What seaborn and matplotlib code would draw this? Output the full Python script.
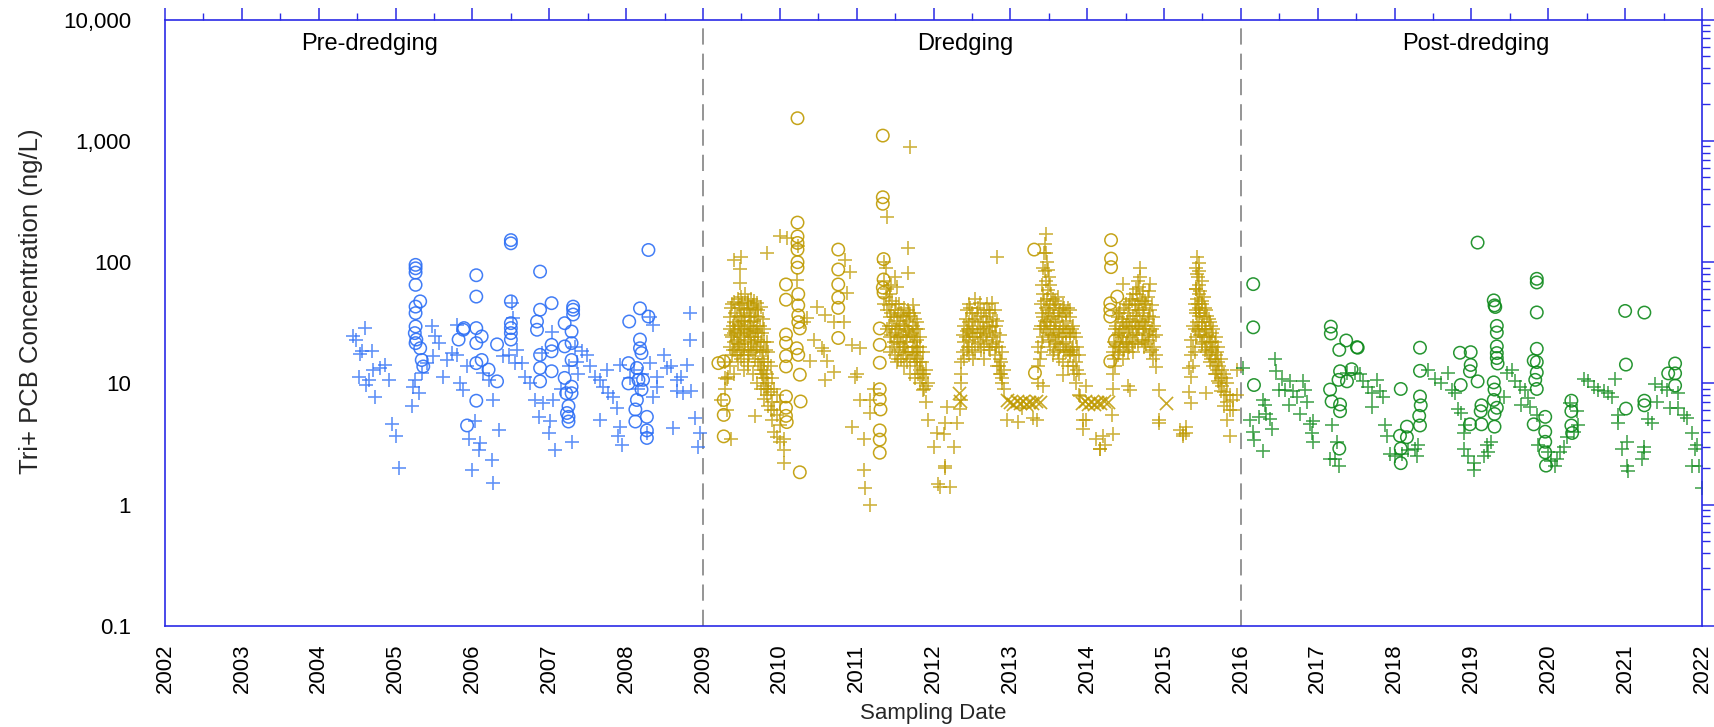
import numpy as np
import pandas as pd
import matplotlib
matplotlib.use("Agg")
import matplotlib.pyplot as plt
import matplotlib.ticker as mticker
import seaborn as sns

# ---------------- data (decimal year, Tri+ PCB ng/L) ----------------
pre_plus = [
    (2004.45, 24.4), (2004.60, 28.9), (2004.49, 22.9), (2004.56, 18.4), (2004.69, 18.4),
    (2004.54, 17.6), (2004.52, 11.4), (2004.62, 9.7), (2004.73, 7.8), (2004.65, 10.7),
    (2004.71, 12.9), (2004.80, 13.4), (2004.86, 14.2), (2004.91, 10.7), (2004.95, 4.6),
    (2005.01, 3.66), (2005.04, 2.0), (2005.21, 6.5), (2005.25, 10.7), (2005.23, 9.4),
    (2005.30, 8.3), (2005.34, 12.2), (2005.41, 14.7), (2005.47, 29.5), (2005.51, 24.4),
    (2005.56, 21.5), (2005.49, 16.7), (2005.62, 11.4), (2005.67, 15.6), (2005.73, 17.8),
    (2005.80, 17.2), (2005.84, 10.0), (2005.88, 8.9), (2005.93, 13.8), (2005.80, 30.4),
    (2005.95, 3.5), (2006.03, 4.9), (2006.10, 3.2), (2006.08, 2.8), (2006.00, 1.95),
    (2006.25, 2.35), (2006.27, 1.5), (2006.34, 4.15), (2006.14, 12.2), (2006.21, 10.7),
    (2006.27, 7.3), (2006.40, 16.7), (2006.47, 17.2), (2006.51, 46.0), (2006.55, 14.7),
    (2006.53, 34.5), (2006.58, 18.9), (2006.64, 14.7), (2006.68, 11.4), (2006.75, 10.0),
    (2006.81, 7.3), (2006.86, 5.3), (2006.92, 6.9), (2007.01, 4.9), (2006.99, 3.9),
    (2007.07, 2.85), (2007.29, 3.3), (2007.03, 26.8), (2006.90, 17.8), (2007.05, 7.3),
    (2007.15, 9.0), (2007.25, 14.0), (2007.33, 20.0), (2007.36, 15.0), (2007.38, 12.0),
    (2007.42, 18.4), (2007.49, 17.2), (2007.53, 13.8), (2007.60, 11.4), (2007.66, 10.7),
    (2007.75, 12.9), (2007.70, 9.4), (2007.77, 8.3), (2007.83, 7.8), (2007.88, 6.3),
    (2007.66, 5.0), (2007.92, 4.4), (2007.94, 3.1), (2007.90, 3.65), (2007.92, 14.2),
    (2008.05, 11.0), (2008.10, 13.0), (2008.15, 9.0), (2008.20, 12.0),
    (2008.31, 35.6), (2008.35, 30.4), (2008.31, 14.7), (2008.40, 11.4), (2008.49, 17.2),
    (2008.53, 13.4), (2008.59, 13.8), (2008.66, 10.7), (2008.72, 11.4), (2008.79, 14.2),
    (2008.66, 8.6), (2008.74, 8.3), (2008.85, 8.6), (2008.83, 37.9), (2008.83, 22.9),
    (2008.61, 4.3), (2008.27, 3.9), (2008.90, 5.2), (2008.96, 3.9), (2008.94, 3.0),
    (2008.35, 7.8), (2008.40, 9.4),
]
pre_circle = [
    (2005.26, 95), (2005.26, 89), (2005.26, 82), (2005.26, 65), (2005.32, 47.5),
    (2005.26, 43), (2005.26, 38), (2005.26, 29.5), (2005.25, 26), (2005.26, 21.5),
    (2005.27, 23), (2005.32, 19.5), (2005.34, 15.6), (2005.36, 13.8),
    (2005.82, 23), (2005.88, 27.7), (2005.89, 28.6), (2006.05, 78), (2006.05, 52),
    (2006.05, 28.6), (2006.12, 24.4), (2006.05, 21.5), (2006.05, 14.7), (2006.12, 15.6),
    (2006.21, 13.0), (2006.32, 10.4), (2006.32, 21.0), (2006.05, 7.2), (2005.93, 4.5),
    (2006.50, 143), (2006.50, 152), (2006.50, 47.5), (2006.50, 31.4), (2006.50, 28.6),
    (2006.50, 26), (2006.50, 23),
    (2006.88, 83.6), (2006.88, 40.5), (2007.03, 45.9), (2006.84, 32.4), (2006.84, 27.7),
    (2006.88, 17.2), (2006.88, 13.4), (2006.88, 10.4), (2007.03, 20.8), (2007.03, 18.4),
    (2007.03, 12.6), (2007.20, 31.4), (2007.20, 20.2), (2007.20, 11.1), (2007.22, 8.3),
    (2007.25, 6.5), (2007.25, 5.3), (2007.31, 43), (2007.31, 40.5), (2007.31, 37),
    (2007.29, 26.8), (2007.29, 21.5), (2007.29, 15.6), (2007.29, 9.4), (2007.29, 8.3),
    (2007.23, 5.7), (2007.25, 4.85),
    (2008.04, 32.4), (2008.03, 14.7), (2008.03, 10.0), (2008.18, 41.6), (2008.29, 35.6),
    (2008.18, 23), (2008.18, 19.5), (2008.20, 17.8), (2008.14, 13.4), (2008.16, 10.7),
    (2008.22, 10.7), (2008.20, 8.9), (2008.14, 7.3), (2008.12, 6.1), (2008.12, 4.85),
    (2008.27, 5.3), (2008.27, 4.1), (2008.27, 3.55), (2008.29, 126),
]

# dredging '+' samples: rows of (year, value, value, ...)
dr_plus_rows = [
    (2009.24, 7.3), (2009.28, 15, 11, 9), (2009.31, 6.0, 10.9), (2009.33, 11.4),
    (2009.35, 28, 20, 14, 35), (2009.37, 3.5), (2009.38, 45, 24, 17), (2009.40, 32, 22, 12, 104),
    (2009.42, 38, 27, 19), (2009.45, 50, 30, 21, 15), (2009.48, 87, 67, 42, 26, 18),
    (2009.50, 111, 35, 24, 16), (2009.53, 40, 28, 20, 13), (2009.55, 55, 33, 22),
    (2009.58, 46, 30, 19, 14), (2009.60, 38, 26, 17), (2009.62, 50, 32, 21),
    (2009.65, 44, 28, 18, 12), (2009.68, 36, 24, 16, 5.4), (2009.70, 46, 30, 20, 10),
    (2009.72, 40, 26, 15), (2009.75, 43, 22, 13, 9), (2009.78, 34, 18, 11),
    (2009.80, 28, 15, 9.5, 7.5), (2009.83, 120, 22, 12, 8), (2009.85, 18, 10, 6.5),
    (2009.88, 14, 8.5, 6), (2009.90, 11, 7, 5), (2009.93, 9, 6, 4), (2009.96, 8, 5.5, 3.6),
    (2010.00, 163, 7, 4.5, 3.3), (2010.05, 2.2, 2.8, 3.5), (2010.09, 157),
    (2010.22, 71), (2010.24, 135), (2010.31, 32), (2010.35, 34.5), (2010.39, 15.2),
    (2010.44, 23), (2010.48, 43), (2010.55, 19.5), (2010.57, 18.6), (2010.59, 36.4, 10.7),
    (2010.62, 15.2), (2010.70, 12.4, 32), (2010.83, 32), (2010.85, 104), (2010.87, 56),
    (2010.91, 83), (2010.94, 20.8, 4.4), (2010.98, 11.4), (2011.00, 12.0), (2011.04, 19.5, 7.3),
    (2011.09, 3.5, 1.95), (2011.11, 1.37), (2011.17, 5.7, 7.3, 1.0), (2011.22, 9.0),
    (2011.36, 100, 70, 45), (2011.40, 237, 60, 40, 28), (2011.43, 55, 35, 24, 18),
    (2011.46, 48, 30, 20), (2011.50, 76, 40, 26, 17), (2011.52, 62, 33, 22, 15),
    (2011.55, 45, 28, 19), (2011.58, 38, 25, 16), (2011.61, 42, 30, 20, 14),
    (2011.64, 35, 24, 17), (2011.67, 131, 82, 40, 27, 18), (2011.69, 898),
    (2011.70, 36, 25, 16, 12), (2011.73, 44, 30, 20), (2011.76, 34, 22, 15, 11),
    (2011.78, 32, 20, 14), (2011.80, 28, 18, 12), (2011.83, 24, 15, 10),
    (2011.86, 18, 12, 8.9), (2011.90, 13, 9.5, 7), (2011.93, 10, 5.0),
    (2012.00, 3.0), (2012.04, 3.9), (2012.06, 1.47), (2012.085, 1.4), (2012.13, 3.8),
    (2012.15, 2.1, 2.0, 4.7), (2012.17, 6.4), (2012.22, 1.4), (2012.26, 3.0),
    (2012.30, 4.7), (2012.34, 6.1), (2012.36, 15, 10, 12, 7.3),
    (2012.40, 30, 22, 16), (2012.43, 40, 27, 19), (2012.46, 45, 32, 23, 17),
    (2012.50, 38, 28, 20), (2012.54, 50, 34, 24, 18), (2012.58, 42, 30, 21),
    (2012.62, 36, 26, 19), (2012.66, 40, 28, 20, 16), (2012.70, 45, 32, 23),
    (2012.74, 38, 27, 19), (2012.76, 46, 30, 21), (2012.80, 40, 26, 17),
    (2012.82, 110), (2012.83, 33, 22, 14), (2012.86, 25, 16, 12), (2012.89, 18, 11, 10),
    (2012.92, 13, 9), (2012.95, 5.0), (2013.10, 4.8), (2013.15, 6.3), (2013.30, 5.2),
    (2013.34, 5.0), (2013.36, 20, 14, 10), (2013.40, 45, 30, 18), (2013.43, 90, 55, 35, 24, 9.5),
    (2013.46, 172, 118, 70, 42, 28), (2013.49, 86, 59, 38, 26), (2013.52, 65, 44, 30, 20),
    (2013.55, 50, 36, 25, 17), (2013.58, 48, 32, 22), (2013.62, 52, 35, 24, 18),
    (2013.65, 40, 28, 20), (2013.68, 44, 30, 21, 15), (2013.69, 11.7), (2013.72, 38, 26, 18),
    (2013.75, 42, 28, 19, 14), (2013.78, 35, 24, 17), (2013.82, 30, 20, 14),
    (2013.85, 24, 15, 10), (2013.89, 17, 12, 8), (2013.91, 7.9), (2013.95, 5.0, 4.2),
    (2013.99, 9.6, 5.0), (2014.12, 3.5), (2014.17, 2.9, 2.9), (2014.21, 3.7), (2014.23, 3.1),
    (2014.32, 5.5), (2014.34, 3.8),
    (2014.33, 18, 12, 9), (2014.36, 28, 20, 14), (2014.40, 35, 25, 17), (2014.43, 40, 28, 20),
    (2014.46, 66, 32, 22, 16), (2014.50, 45, 30, 21), (2014.53, 38, 26, 18, 9.6),
    (2014.56, 50, 34, 24, 8.8), (2014.60, 55, 36, 25, 18), (2014.63, 60, 40, 28),
    (2014.66, 70, 45, 30, 21), (2014.69, 89, 76, 50, 33), (2014.72, 58, 38, 26),
    (2014.75, 48, 32, 22), (2014.79, 52, 34, 23), (2014.82, 66, 40, 27, 18),
    (2014.85, 35, 24, 16), (2014.89, 25, 17, 13.7), (2014.93, 8.8, 5.0, 4.7),
    (2015.21, 4.1), (2015.25, 3.8, 3.7), (2015.28, 3.9, 4.4),
    (2015.32, 13.5, 8.5), (2015.35, 23, 17, 11.3, 6.9), (2015.38, 30, 20, 14),
    (2015.41, 60, 38, 24), (2015.43, 111, 80, 50, 32), (2015.46, 98, 65, 42, 28),
    (2015.49, 70, 45, 30, 21), (2015.52, 52, 35, 24), (2015.55, 40, 28, 20, 8.3),
    (2015.58, 34, 24, 17), (2015.61, 30, 22, 16), (2015.64, 28, 20, 14),
    (2015.67, 24, 17, 12), (2015.70, 20, 15, 10.5), (2015.74, 16, 11, 8.6),
    (2015.78, 12, 8.5, 6.5), (2015.82, 10, 7, 5.0), (2015.86, 8, 6, 3.7),
    (2015.90, 7.3, 6), (2015.95, 13, 8),
]
# further '+' samples inside the dense seasonal clusters
dr_plus_rows_dense = [
    (2009.36, 42, 25), (2009.39, 30, 19), (2009.41, 47, 26), (2009.44, 36, 23, 17),
    (2009.47, 44, 31, 21), (2009.49, 52, 28), (2009.51, 46, 33, 19), (2009.54, 36, 25, 17),
    (2009.57, 41, 27), (2009.59, 48, 23, 15), (2009.61, 35, 28), (2009.63, 42, 24, 19),
    (2009.66, 48, 33, 22), (2009.69, 41, 27, 19), (2009.71, 35, 23), (2009.74, 30, 19, 14),
    (2009.77, 26, 16, 12), (2009.79, 22, 13), (2009.82, 19, 11, 9), (2009.84, 15, 9),
    (2011.38, 90, 52), (2011.42, 44, 30), (2011.45, 65, 38, 25), (2011.48, 35, 22),
    (2011.51, 45, 28), (2011.54, 37, 24, 16), (2011.57, 31, 21), (2011.60, 36, 24, 18),
    (2011.63, 30, 20), (2011.66, 33, 22, 15), (2011.68, 38, 28), (2011.72, 26, 18),
    (2011.74, 38, 24, 17), (2011.77, 28, 18), (2011.79, 23, 16), (2011.82, 20, 13),
    (2011.85, 15, 11), (2011.88, 12, 9),
    (2012.38, 25, 18), (2012.42, 34, 24), (2012.45, 28, 20), (2012.48, 42, 26),
    (2012.52, 33, 24, 16), (2012.56, 38, 26), (2012.60, 46, 28, 22), (2012.64, 32, 24),
    (2012.68, 35, 25), (2012.72, 40, 29, 20), (2012.78, 34, 24), (2012.81, 30, 20),
    (2012.85, 20, 14), (2012.88, 15, 12),
    (2013.38, 28, 16), (2013.41, 65, 38, 22), (2013.44, 120, 48, 30), (2013.45, 140, 85, 33),
    (2013.48, 100, 50, 32), (2013.50, 75, 40, 23), (2013.53, 55, 34, 25), (2013.57, 42, 28, 19),
    (2013.60, 45, 30, 21), (2013.63, 38, 26, 16), (2013.67, 36, 24), (2013.70, 42, 28, 19),
    (2013.73, 33, 22), (2013.77, 40, 26, 18), (2013.80, 28, 19), (2013.83, 26, 17, 12),
    (2013.87, 20, 13),
    (2014.35, 22, 16), (2014.38, 30, 21), (2014.41, 38, 26, 18), (2014.45, 34, 24),
    (2014.48, 42, 28, 19), (2014.52, 32, 22), (2014.55, 44, 29, 20), (2014.58, 48, 30, 21),
    (2014.62, 44, 32, 22), (2014.65, 55, 36, 25), (2014.68, 62, 40, 28), (2014.71, 48, 32, 23),
    (2014.74, 42, 28, 20), (2014.77, 45, 30, 21), (2014.80, 58, 36, 25), (2014.84, 44, 28, 19),
    (2014.87, 30, 20),
    (2015.40, 45, 28, 18), (2015.42, 90, 60, 40), (2015.44, 75, 45, 27), (2015.45, 85, 55, 36),
    (2015.47, 58, 38, 25), (2015.50, 48, 32, 22), (2015.53, 42, 28, 19), (2015.56, 36, 25, 18),
    (2015.60, 32, 22, 15), (2015.63, 26, 19), (2015.66, 22, 16, 12), (2015.69, 18, 13),
    (2015.72, 14, 10), (2015.76, 13, 9.5), (2015.80, 11, 8),
]
dr_circle = [
    (2009.20, 14.7), (2009.27, 15.2), (2009.27, 7.3), (2009.27, 5.5), (2009.27, 3.66),
    (2010.08, 65.5), (2010.08, 49), (2010.08, 25.3), (2010.08, 21.6), (2010.08, 16.8),
    (2010.08, 13.8), (2010.08, 7.8), (2010.08, 6.3), (2010.08, 5.4), (2010.09, 4.8),
    (2010.23, 1538), (2010.23, 212), (2010.23, 163), (2010.23, 144), (2010.23, 127),
    (2010.23, 100), (2010.23, 90), (2010.24, 54.5), (2010.24, 44), (2010.24, 36.4),
    (2010.24, 32), (2010.26, 28.4), (2010.22, 19.5), (2010.24, 17.2), (2010.26, 11.8),
    (2010.27, 7.1), (2010.26, 1.85),
    (2010.76, 127), (2010.76, 87), (2010.76, 65.5), (2010.76, 51), (2010.76, 42), (2010.76, 23.7),
    (2011.34, 1106), (2011.34, 343), (2011.34, 303), (2011.35, 106), (2011.35, 72),
    (2011.34, 61.6), (2011.35, 56), (2011.30, 28.4), (2011.30, 20.8), (2011.30, 14.8),
    (2011.30, 8.95), (2011.30, 7.4), (2011.31, 6.1), (2011.30, 4.1), (2011.30, 3.44),
    (2011.30, 2.68),
    (2013.31, 127), (2013.32, 12.2),
    (2014.31, 152), (2014.31, 107), (2014.31, 91), (2014.39, 52), (2014.30, 45.8),
    (2014.30, 40.5), (2014.30, 35.6), (2014.36, 22.5), (2014.30, 15.2),
]
dr_cross = [
    (2012.33, 8.3), (2012.35, 7.1),
    (2012.95, 7.3), (2013.00, 7.0), (2013.04, 6.8), (2013.08, 7.2), (2013.12, 6.9),
    (2013.16, 7.1), (2013.20, 6.8), (2013.24, 7.0), (2013.28, 6.9), (2013.33, 7.1), (2013.38, 7.0),
    (2013.93, 6.9), (2013.97, 7.1), (2014.01, 6.8), (2014.05, 7.0), (2014.09, 6.8),
    (2014.13, 7.0), (2014.17, 6.9), (2014.22, 7.2), (2014.27, 7.0),
    (2015.03, 6.9),
]

post_plus = [
    (2016.03, 13.5), (2016.12, 4.97), (2016.16, 4.0), (2016.17, 3.4), (2016.29, 2.77),
    (2016.23, 5.3), (2016.31, 6.6), (2016.29, 7.3), (2016.33, 5.6), (2016.38, 5.1),
    (2016.40, 4.2), (2016.44, 15.8), (2016.46, 12.7), (2016.53, 10.9), (2016.49, 8.9),
    (2016.57, 8.9), (2016.64, 10.4), (2016.68, 8.7), (2016.73, 7.8), (2016.81, 10.4),
    (2016.83, 8.9), (2016.86, 7.0), (2016.62, 6.6), (2016.77, 5.6), (2016.90, 4.6),
    (2016.94, 4.9), (2016.92, 3.9), (2016.94, 3.3), (2017.18, 4.5), (2017.16, 2.4),
    (2017.22, 2.4), (2017.27, 2.1), (2017.25, 3.3), (2017.38, 12.3), (2017.49, 12.3),
    (2017.55, 11.9), (2017.59, 10.4), (2017.66, 9.4), (2017.70, 8.4), (2017.77, 10.7),
    (2017.81, 8.7), (2017.85, 7.8), (2017.70, 6.4), (2017.88, 4.5), (2017.90, 3.7),
    (2017.94, 2.6), (2018.01, 2.5), (2018.09, 2.6), (2018.18, 2.8), (2018.27, 2.9),
    (2018.29, 2.5), (2018.31, 3.1), (2018.44, 12.8), (2018.53, 10.9), (2018.61, 10.0),
    (2018.70, 12.3), (2018.79, 8.4), (2018.75, 8.9), (2018.83, 6.1), (2018.87, 5.7),
    (2018.92, 4.5), (2018.90, 3.9), (2018.90, 2.9), (2018.96, 2.5), (2019.03, 2.2),
    (2019.03, 1.95), (2019.16, 2.5), (2019.22, 2.7), (2019.20, 3.1), (2019.26, 3.3),
    (2019.42, 7.8), (2019.46, 12.3), (2019.53, 12.8), (2019.57, 10.4), (2019.63, 9.4),
    (2019.70, 8.9), (2019.74, 7.6), (2019.65, 6.7), (2019.76, 6.4), (2019.85, 5.5),
    (2019.87, 3.1), (2020.00, 2.7), (2020.04, 2.3), (2020.09, 2.1), (2020.11, 2.4),
    (2020.15, 2.7), (2020.20, 3.0), (2020.24, 3.6), (2020.33, 4.0), (2020.39, 4.5),
    (2020.28, 6.9), (2020.37, 5.9), (2020.46, 10.9), (2020.52, 10.4), (2020.59, 9.4),
    (2020.65, 8.9), (2020.72, 8.7), (2020.78, 8.4), (2020.83, 7.8), (2020.87, 10.9),
    (2020.91, 5.5), (2020.91, 4.7), (2020.96, 2.9), (2021.02, 3.3), (2021.02, 2.1),
    (2021.04, 1.9), (2021.24, 3.0), (2021.24, 2.7), (2021.22, 2.4), (2021.41, 7.0),
    (2021.30, 5.1), (2021.35, 4.7), (2021.39, 9.8), (2021.48, 9.4), (2021.54, 8.9),
    (2021.59, 6.3), (2021.69, 8.4), (2021.69, 6.3), (2021.76, 5.5), (2021.80, 5.2),
    (2021.87, 3.9), (2021.93, 3.1), (2021.91, 2.9), (2021.96, 2.1), (2021.87, 2.1),
    (2021.998, 1.37),
]
post_circle = [
    (2016.16, 65.9), (2016.16, 29.0), (2016.17, 9.7),
    (2017.17, 29.4), (2017.17, 25.8), (2017.28, 18.9), (2017.37, 22.6), (2017.51, 19.9),
    (2017.52, 19.7), (2017.44, 13.1), (2017.29, 12.6), (2017.27, 10.7), (2017.38, 10.4),
    (2017.16, 8.9), (2017.18, 7.1), (2017.29, 6.7), (2017.29, 5.9), (2017.28, 2.9),
    (2018.08, 9.0), (2018.33, 19.7), (2018.33, 12.7), (2018.33, 7.8), (2018.34, 6.6),
    (2018.32, 5.4), (2018.33, 4.5), (2018.16, 4.4), (2018.07, 3.7), (2018.08, 2.9),
    (2018.08, 2.2), (2018.16, 3.6),
    (2018.85, 17.9), (2018.99, 18.1), (2018.99, 14.2), (2018.98, 12.6), (2019.08, 10.4),
    (2018.86, 9.7), (2019.13, 6.6), (2019.12, 5.9), (2019.13, 4.6), (2018.98, 4.6),
    (2019.08, 145), (2019.29, 48.4), (2019.30, 44), (2019.31, 42.7), (2019.33, 29.8),
    (2019.33, 26.3), (2019.33, 20.2), (2019.33, 17.8), (2019.33, 16.2), (2019.34, 14.6),
    (2019.29, 10.2), (2019.30, 8.9), (2019.29, 7.3), (2019.33, 6.3), (2019.30, 5.6),
    (2019.30, 4.4),
    (2019.85, 72.9), (2019.85, 68), (2019.85, 38.5), (2019.85, 19.3), (2019.81, 15.4),
    (2019.85, 15.0), (2019.85, 12.3), (2019.83, 10.7), (2019.85, 9.0), (2019.81, 4.6),
    (2019.96, 5.3), (2019.96, 4.0), (2019.96, 3.3), (2019.96, 2.7), (2019.97, 2.1),
    (2020.30, 7.2), (2020.30, 5.9), (2020.30, 4.5), (2020.31, 3.9),
    (2021.00, 39.6), (2021.25, 38.4), (2021.01, 14.3), (2021.01, 6.2), (2021.25, 7.2),
    (2021.25, 6.6), (2021.65, 14.6), (2021.56, 12.1), (2021.65, 12.1), (2021.65, 9.6),
]

period_labels = ["Pre-dredging", "Dredging", "Post-dredging"]
period_label_x = [2004.66, 2012.41, 2019.06]
boundaries = [2009, 2016]
year_ticks = list(range(2002, 2023))
y_ticks = [0.1, 1, 10, 100, 1000, 10000]
y_tick_labels = ["0.1", "1", "10", "100", "1,000", "10,000"]

BLUE = "#2d6ff5"
GOLD = "#bf9a00"
GREEN = "#0e8a1b"
AXIS = "#2a2ae6"


def df_pairs(pairs):
    return pd.DataFrame(pairs, columns=["year", "value"])


def df_rows(rows):
    out = []
    for r in rows:
        for v in r[1:]:
            out.append((r[0], v))
    return pd.DataFrame(out, columns=["year", "value"])


sns.set_style("white")
plt.rcParams["font.family"] = ["Liberation Sans", "DejaVu Sans"]

fig = plt.figure(figsize=(17.14, 7.27), dpi=100)
ax = fig.add_axes([0.0963, 0.139, 0.8967, 0.834])

plus_kw = dict(marker="+", s=110, linewidth=1.2, alpha=0.75, legend=False, ax=ax)
circ_kw = dict(marker="o", s=80, facecolor="none", linewidth=1.1, alpha=0.9, legend=False, ax=ax)
cross_kw = dict(marker="x", s=90, linewidth=1.2, alpha=0.85, legend=False, ax=ax)

dr_plus_df = pd.concat([df_rows(dr_plus_rows), df_rows(dr_plus_rows_dense)], ignore_index=True)

sns.scatterplot(data=df_pairs(pre_circle), x="year", y="value", edgecolor=BLUE, **circ_kw)
sns.scatterplot(data=df_pairs(pre_plus), x="year", y="value", color=BLUE, **plus_kw)
sns.scatterplot(data=df_pairs(dr_circle), x="year", y="value", edgecolor=GOLD, **circ_kw)
sns.scatterplot(data=dr_plus_df, x="year", y="value", color=GOLD, **plus_kw)
sns.scatterplot(data=df_pairs(dr_cross), x="year", y="value", color=GOLD, **cross_kw)
sns.scatterplot(data=df_pairs(post_circle), x="year", y="value", edgecolor=GREEN, **circ_kw)
sns.scatterplot(data=df_pairs(post_plus), x="year", y="value", color=GREEN, **plus_kw)

for b in boundaries:
    ax.axvline(b, color="#8c8c8c", linestyle=(0, (9, 5)), linewidth=1.3, zorder=0)

ax.set_yscale("log")
ax.set_ylim(0.1, 10000)
ax.set_xlim(2002, 2022)

ax.set_xticks(year_ticks)
ax.set_xticklabels([str(y) for y in year_ticks], rotation=90)
ax.xaxis.set_minor_locator(mticker.MultipleLocator(0.5))
ax.set_yticks(y_ticks)
ax.set_yticklabels(y_tick_labels)
ax.yaxis.set_minor_locator(mticker.LogLocator(base=10, subs=np.arange(2, 10), numticks=20))
ax.yaxis.set_minor_formatter(mticker.NullFormatter())

ax.tick_params(which="both", direction="out", color=AXIS, top=True, right=True,
               labeltop=False, labelright=False, labelcolor="black")
ax.tick_params(axis="x", which="major", length=8.6, width=1.1, labelsize=16, pad=4)
ax.tick_params(axis="x", which="minor", length=4.7, width=1.0)
ax.tick_params(axis="y", which="major", length=11.5, width=1.1, labelsize=16, pad=13)
ax.tick_params(axis="y", which="minor", length=5.8, width=1.0)
for sp in ax.spines.values():
    sp.set_color(AXIS)
    sp.set_linewidth(1.2)

ax.set_xlabel("Sampling Date", fontsize=16, labelpad=7)
ax.set_ylabel("Tri+ PCB Concentration (ng/L)", fontsize=18.5)
ax.yaxis.set_label_coords(-0.0794, 0.535)

for lab, lx in zip(period_labels, period_label_x):
    ax.text(lx, 6300, lab, ha="center", va="center", fontsize=17, color="black")

fig.savefig("out.png", dpi=100)
